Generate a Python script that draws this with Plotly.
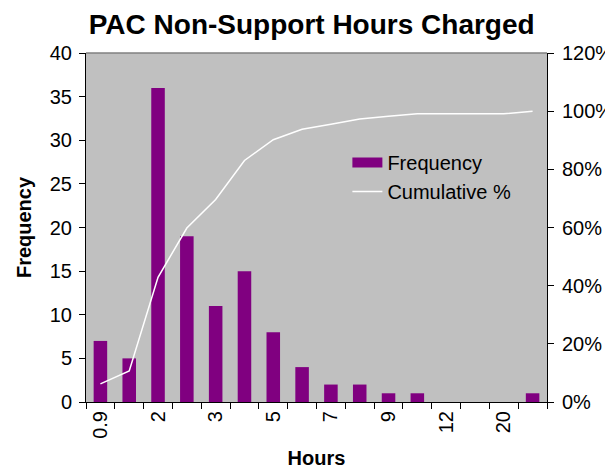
import plotly.graph_objects as go

categories = ["0.9", "1.5", "2", "2.5", "3", "4", "5", "6", "7", "8", "9", "10", "12", "15", "20", "More"]
tick_labels = ["0.9", "", "2", "", "3", "", "5", "", "7", "", "9", "", "12", "", "20", ""]
frequency = [7, 5, 36, 19, 11, 15, 8, 4, 2, 2, 1, 1, 0, 0, 0, 1]
cumulative_pct = [0.0625, 0.1071, 0.4286, 0.5982, 0.6964, 0.8304, 0.9018, 0.9375,
                  0.9554, 0.9732, 0.9821, 0.9911, 0.9911, 0.9911, 0.9911, 1.0]

PURPLE = "#800080"
FONT = "Liberation Sans, Arial, sans-serif"

fig = go.Figure()
fig.add_trace(go.Bar(x=categories, y=frequency, marker=dict(color=PURPLE, line=dict(width=0)),
                     name="Frequency", showlegend=False, yaxis="y"))
# legend entry for the bars (wide rectangle like the original)
fig.add_trace(go.Scatter(x=[None], y=[None], mode="lines", line=dict(color=PURPLE, width=14),
                         name="Frequency", yaxis="y"))
fig.add_trace(go.Scatter(x=categories, y=cumulative_pct, mode="lines",
                         line=dict(color="white", width=1.5), name="Cumulative %", yaxis="y2"))

fig.update_layout(
    width=605, height=462,
    margin=dict(l=78, r=66, t=45, b=68, autoexpand=False),
    paper_bgcolor="white", plot_bgcolor="#C0C0C0",
    font=dict(family=FONT, size=20, color="black"),
    title=dict(text="<b>PAC Non-Support Hours Charged</b>", x=0.502, xanchor="center",
               y=0.964, yanchor="middle", font=dict(size=28)),
    bargap=0.53,
    showlegend=True,
    legend=dict(x=0.567, y=0.742, xanchor="left", yanchor="top", bgcolor="rgba(0,0,0,0)",
                font=dict(size=20), tracegroupgap=0, itemwidth=30),
    xaxis=dict(type="category", tickmode="array", tickvals=categories, ticktext=tick_labels,
               tickson="boundaries", ticks="outside", ticklen=6, tickcolor="black",
               tickangle=-90, showline=True, linecolor="black", linewidth=1,
               showgrid=False, zeroline=False, automargin=False,
               title=dict(text="<b>Hours</b>", font=dict(size=20), standoff=13)),
    yaxis=dict(range=[0, 40], dtick=5, ticks="outside", ticklen=6, tickcolor="black",
               showline=True, linecolor="black", linewidth=1, showgrid=False, zeroline=False,
               automargin=False, ticklabelstandoff=3,
               title=dict(text="<b>Frequency</b>", font=dict(size=20), standoff=12)),
    yaxis2=dict(range=[0, 1.2], dtick=0.2, tickformat=".0%", overlaying="y", side="right",
                ticks="outside", ticklen=6, tickcolor="black", showline=True,
                linecolor="black", linewidth=1, showgrid=False, zeroline=False,
                automargin=False, ticklabelstandoff=4),
    shapes=[dict(type="line", xref="paper", yref="paper", x0=0, x1=1, y0=1, y1=1,
                 line=dict(color="#808080", width=1.5))],
)

fig.write_html("out.html")
